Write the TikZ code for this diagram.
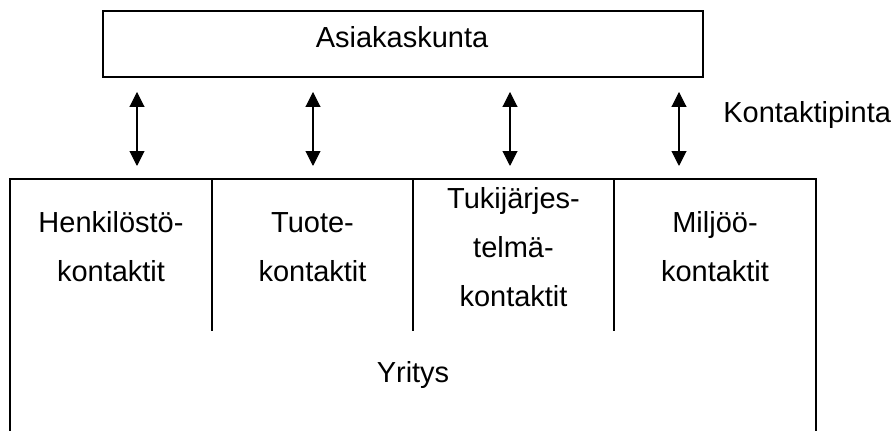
\documentclass[tikz,border=0pt]{standalone}
\usepackage{fontspec}
\setmainfont{Liberation Sans}
\usetikzlibrary{arrows.meta}
\begin{document}
\begin{tikzpicture}[x=0.02cm,y=-0.02cm,
  lbl/.style={font=\fontsize{16.5}{28}\selectfont, inner sep=0pt, align=center},
  frame/.style={line width=1.1pt},
  divider/.style={line width=0.6pt},
  link/.style={line width=0.6pt, {Triangle[width=8.5pt,length=8.5pt]}-{Triangle[width=8.5pt,length=8.5pt]}}]
  \useasboundingbox (0,0) rectangle (894,431);

  % customer base box
  \node[frame, draw, rectangle, minimum width=600*0.02cm, minimum height=66*0.02cm,
        inner sep=0pt] (asiakas) at (403,44) {};
  \node[lbl, anchor=base] (asiakasText) at (402,48) {Asiakaskunta};

  % company frame, open at the bottom
  \draw[frame] (10,431) -- (10,179) -- (816,179) -- (816,431);
  \draw[divider] (212,179) -- (212,331);
  \draw[divider] (413,179) -- (413,331);
  \draw[divider] (614,179) -- (614,331);

  % contact categories
  \node[lbl] (henkilo) at (111,247) {Henkilöstö-\\kontaktit};
  \node[lbl] (tuote) at (312.5,247) {Tuote-\\kontaktit};
  \node[lbl] (tuki) at (513.5,247) {Tukijärjes-\\telmä-\\kontaktit};
  \node[lbl] (miljoo) at (715,247) {Miljöö-\\kontaktit};

  \node[lbl, anchor=base] (yritys) at (413,383) {Yritys};

  % contact surface arrows
  \foreach \n/\x in {a/137, b/313, c/510, d/679} {
    \coordinate (top\n) at (\x,92);
    \coordinate (bot\n) at (\x,166);
    \draw[link] (top\n) -- (bot\n);
  }
  \node[lbl, anchor=base west] (pinta) at (723,123) {Kontaktipinta};
\end{tikzpicture}
\end{document}
